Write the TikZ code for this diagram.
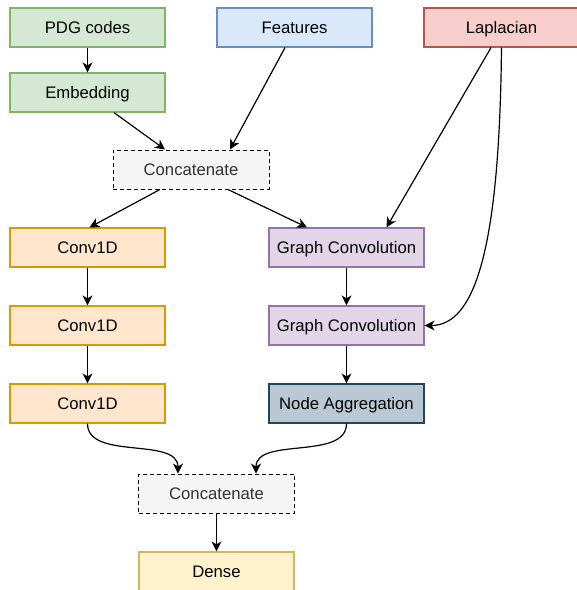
\documentclass[tikz,border=0pt]{standalone}
\usepackage{fontspec}
\setmainfont{Liberation Sans}
\usetikzlibrary{arrows.meta,calc}
\definecolor{gfill}{HTML}{D5E8D4}\definecolor{gdraw}{HTML}{82B366}
\definecolor{bfill}{HTML}{DAE8FC}\definecolor{bdraw}{HTML}{6C8EBF}
\definecolor{rfill}{HTML}{F8CECC}\definecolor{rdraw}{HTML}{B85450}
\definecolor{cfill}{HTML}{F5F5F5}\definecolor{ctext}{HTML}{333333}
\definecolor{ofill}{HTML}{FFE6CC}\definecolor{odraw}{HTML}{D79B00}
\definecolor{pfill}{HTML}{E1D5E7}\definecolor{pdraw}{HTML}{9673A6}
\definecolor{sfill}{HTML}{BAC8D3}\definecolor{sdraw}{HTML}{23445D}
\definecolor{yfill}{HTML}{FFF2CC}\definecolor{ydraw}{HTML}{D6B656}
\tikzset{
  box/.style={rectangle, minimum width=155pt, minimum height=39pt, inner sep=0pt,
    text height=12pt, text depth=0pt,
    line width=1.2pt, font=\fontsize{16.7}{20}\selectfont, text=black},
  green/.style={box, fill=gfill, draw=gdraw},
  blue/.style={box, fill=bfill, draw=bdraw},
  red/.style={box, fill=rfill, draw=rdraw},
  cat/.style={box, minimum width=156pt, fill=cfill, draw=black, line width=1pt, dash pattern=on 4pt off 3pt, text=ctext},
  orange/.style={box, fill=ofill, draw=odraw},
  purple/.style={box, fill=pfill, draw=pdraw},
  slate/.style={box, fill=sfill, draw=sdraw},
  yellow/.style={box, fill=yfill, draw=ydraw},
  conn/.style={line width=1.2pt, solid, -{Stealth[length=10pt,width=10pt,inset=3pt]}},
}
\begin{document}
\begin{tikzpicture}[x=1pt,y=-1pt]
\useasboundingbox (0,0) rectangle (577,590);
\node[green]  (pdg) at (87.5,27.5) {PDG codes};
\node[blue]   (feat) at (294.5,27.5) {Features};
\node[red]    (lap) at (501.5,27.5) {Laplacian};
\node[green]  (emb) at (87.5,92.5) {Embedding};
\node[cat]    (cat1) at (191,169.5) {Concatenate};
\node[orange] (c1) at (87.5,247.5) {Conv1D};
\node[orange] (c2) at (87.5,325.5) {Conv1D};
\node[orange] (c3) at (87.5,403.5) {Conv1D};
\node[purple] (g1) at (346.5,247.5) {Graph Convolution};
\node[purple] (g2) at (346.5,325.5) {Graph Convolution};
\node[slate]  (agg) at (346.5,403.5) {Node Aggregation};
\node[cat]    (cat2) at (216.5,493.5) {Concatenate};
\node[yellow] (dense) at (216.5,571.5) {Dense};

\draw[conn] (pdg) -- (emb);
\draw[conn] ($(emb.south)+(26.5,0)$) -- ($(cat1.north)+(-26,0)$);
\draw[conn] ($(feat.south)+(-9.5,0)$) -- ($(cat1.north)+(39,0)$);
\draw[conn] ($(cat1.south)+(-31,0)$) -- ($(c1.north)+(2,0)$);
\draw[conn] ($(cat1.south)+(37,0)$) -- ($(g1.north)+(-39.5,0)$);
\draw[conn] ($(lap.south)+(-10.5,0)$) -- ($(g1.north)+(40,0)$);
\draw[conn] (lap.south) .. controls ($(lap.south)+(-2,203)$) and ($(g2.east)+(50,0)$) .. (g2.east);
\draw[conn] (c1) -- (c2);
\draw[conn] (c2) -- (c3);
\draw[conn] (g1) -- (g2);
\draw[conn] (g2) -- (agg);
\draw[conn] (c3.south) .. controls ($(c3.south)+(0,37)$) and ($(cat2.north)+(-38.5,-37)$) .. ($(cat2.north)+(-38.5,0)$);
\draw[conn] (agg.south) .. controls ($(agg.south)+(0,37)$) and ($(cat2.north)+(39.5,-37)$) .. ($(cat2.north)+(39.5,0)$);
\draw[conn] (cat2) -- (dense);
\end{tikzpicture}
\end{document}
